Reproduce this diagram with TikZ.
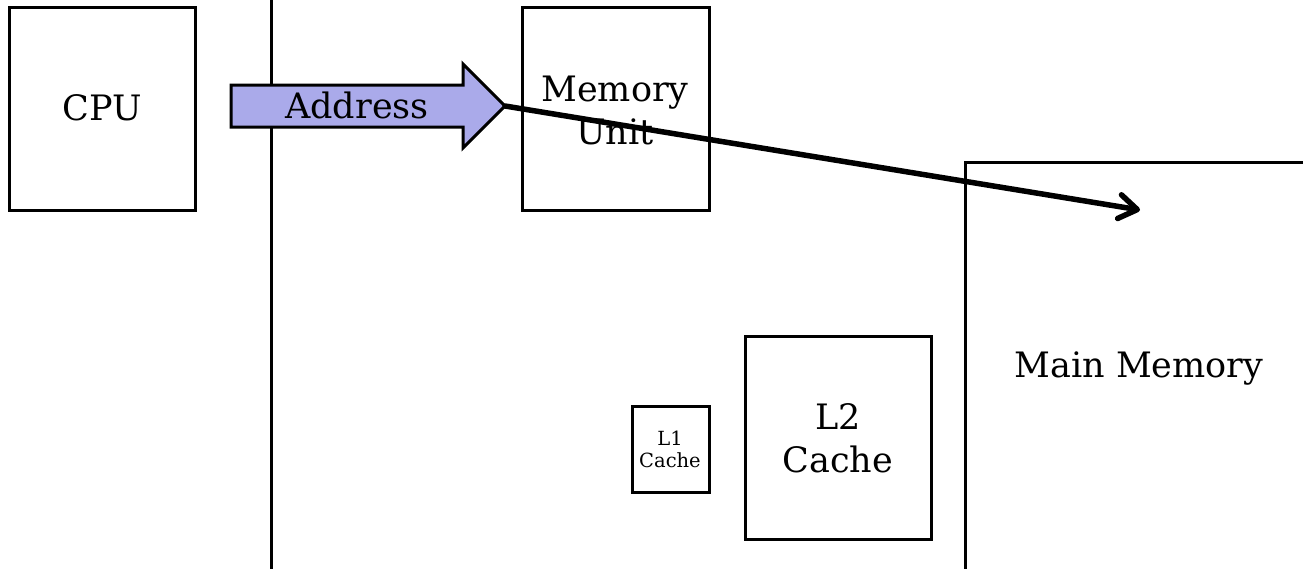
\documentclass[tikz,border=0pt]{standalone}
\usepackage{fontspec}
\setmainfont{DejaVu Serif}
\usetikzlibrary{arrows.meta}
\begin{document}
\begin{tikzpicture}[x=1pt,y=-1pt,
  box/.style={draw=black,line width=3pt,fill=white},
  bigtxt/.style={font=\fontsize{35}{43}\selectfont,align=center,inner sep=0pt},
  smalltxt/.style={font=\fontsize{19.5}{22}\selectfont,align=center,inner sep=0pt},
  busarrow/.style={draw=black,line width=3pt,fill={rgb,255:red,170;green,170;blue,234}},
  pathline/.style={line width=5.5pt,line cap=round,-{Straight Barb[length=18pt,width=24pt,line width=5.5pt,round]}}
]
\useasboundingbox (0,0) rectangle (1303,568);
\clip (0,0) rectangle (1303,568);

% processor side
\draw[box] (9,7) rectangle (195,210);
\node[bigtxt] (cpu) at (102,108) {CPU};
\draw[line width=3pt] (271,-5) -- (271,575);

% memory unit
\draw[box] (522,7) rectangle (709,210);
\node[bigtxt] (mu) at (615,110) {Memory\\Unit};

% caches
\draw[box] (632,406) rectangle (709,492);
\node[smalltxt] (l1) at (670,449) {L1\\Cache};
\draw[box] (745,336) rectangle (931,539);
\node[bigtxt] (l2) at (838,438) {L2\\Cache};

% main memory, running off the page
\draw[box] (1320,162) -- (965,162) -- (965,580);
\node[bigtxt] (mm) at (1139,369) {Main Memory};

% address bus arrow
\draw[busarrow] (231,85) -- (463,85) -- (463,64) -- (505,106) -- (463,148) -- (463,127) -- (231,127) -- cycle;
\node[bigtxt] (addr) at (357,105) {Address};
\coordinate (tip) at (505,106);
\coordinate (target) at (1140,210);
\draw[pathline] (tip) -- (target);
\end{tikzpicture}
\end{document}
